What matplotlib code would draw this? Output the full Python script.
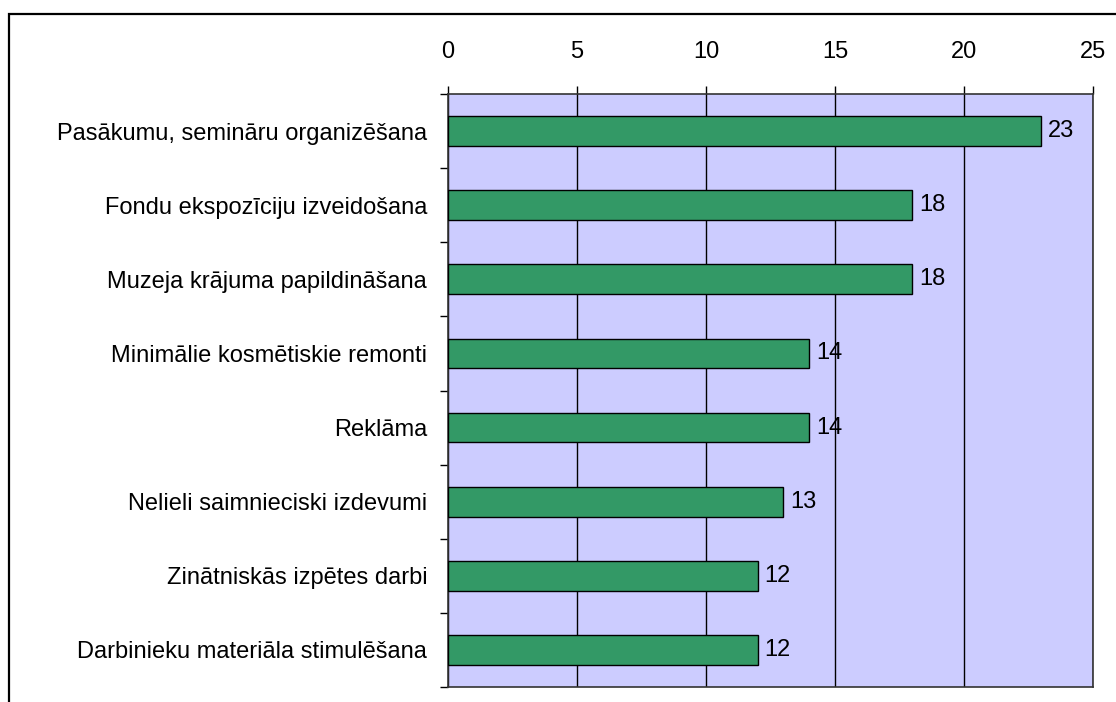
import numpy as np
import matplotlib
matplotlib.use("Agg")
from matplotlib import pyplot as plt
from matplotlib.patches import Rectangle

# data
categories = [
    "Pasākumu, semināru organizēšana",
    "Fondu ekspozīciju izveidošana",
    "Muzeja krājuma papildināšana",
    "Minimālie kosmētiskie remonti",
    "Reklāma",
    "Nelieli saimnieciski izdevumi",
    "Zinātniskās izpētes darbi",
    "Darbinieku materiāla stimulēšana",
]
values = [23, 18, 18, 14, 14, 13, 12, 12]
x_ticks = [0, 5, 10, 15, 20, 25]

plt.rcParams['font.family'] = ['Liberation Sans', 'DejaVu Sans']
fs = 17

fig = plt.figure(figsize=(11.16, 7.02), dpi=100)
# outer chart border (cropped at right and bottom in the reference)
fig.patches.append(Rectangle((9 / 1116, -0.1), 1.2, (702 - 14) / 702 + 0.1,
                             transform=fig.transFigure, fill=False,
                             edgecolor='black', linewidth=1.6, zorder=0))

ax = fig.add_axes([448 / 1116, 15 / 702, 645 / 1116, 593 / 702])
ax.set_facecolor('#CCCCFF')

y = np.arange(len(categories))
ax.barh(y, values, height=0.4, color='#339966', edgecolor='black',
        linewidth=1.0, zorder=3)

for yi, v in zip(y, values):
    ax.annotate(str(v), (v, yi), xytext=(5, 0), textcoords='offset points',
                va='center', ha='left', fontsize=fs, zorder=4)

ax.set_xlim(0, 25)
ax.set_ylim(len(categories) - 0.5, -0.5)
ax.set_xticks(x_ticks)
ax.xaxis.tick_top()
ax.tick_params(axis='x', direction='out', length=6, width=1, pad=16,
               labelsize=fs, color='black')

ax.set_yticks(y)
ax.set_yticklabels(categories)
ax.set_yticks(np.arange(len(categories) + 1) - 0.5, minor=True)
ax.tick_params(axis='y', which='major', length=0, pad=15, labelsize=fs)
ax.tick_params(axis='y', which='minor', direction='out', length=6, width=1,
               color='black')

ax.grid(axis='x', color='black', linewidth=1.0, zorder=1)
ax.set_axisbelow(True)
for side in ['top', 'right', 'bottom', 'left']:
    ax.spines[side].set_color('#333333')
    ax.spines[side].set_linewidth(1.2)

fig.savefig("out.png", dpi=100)
